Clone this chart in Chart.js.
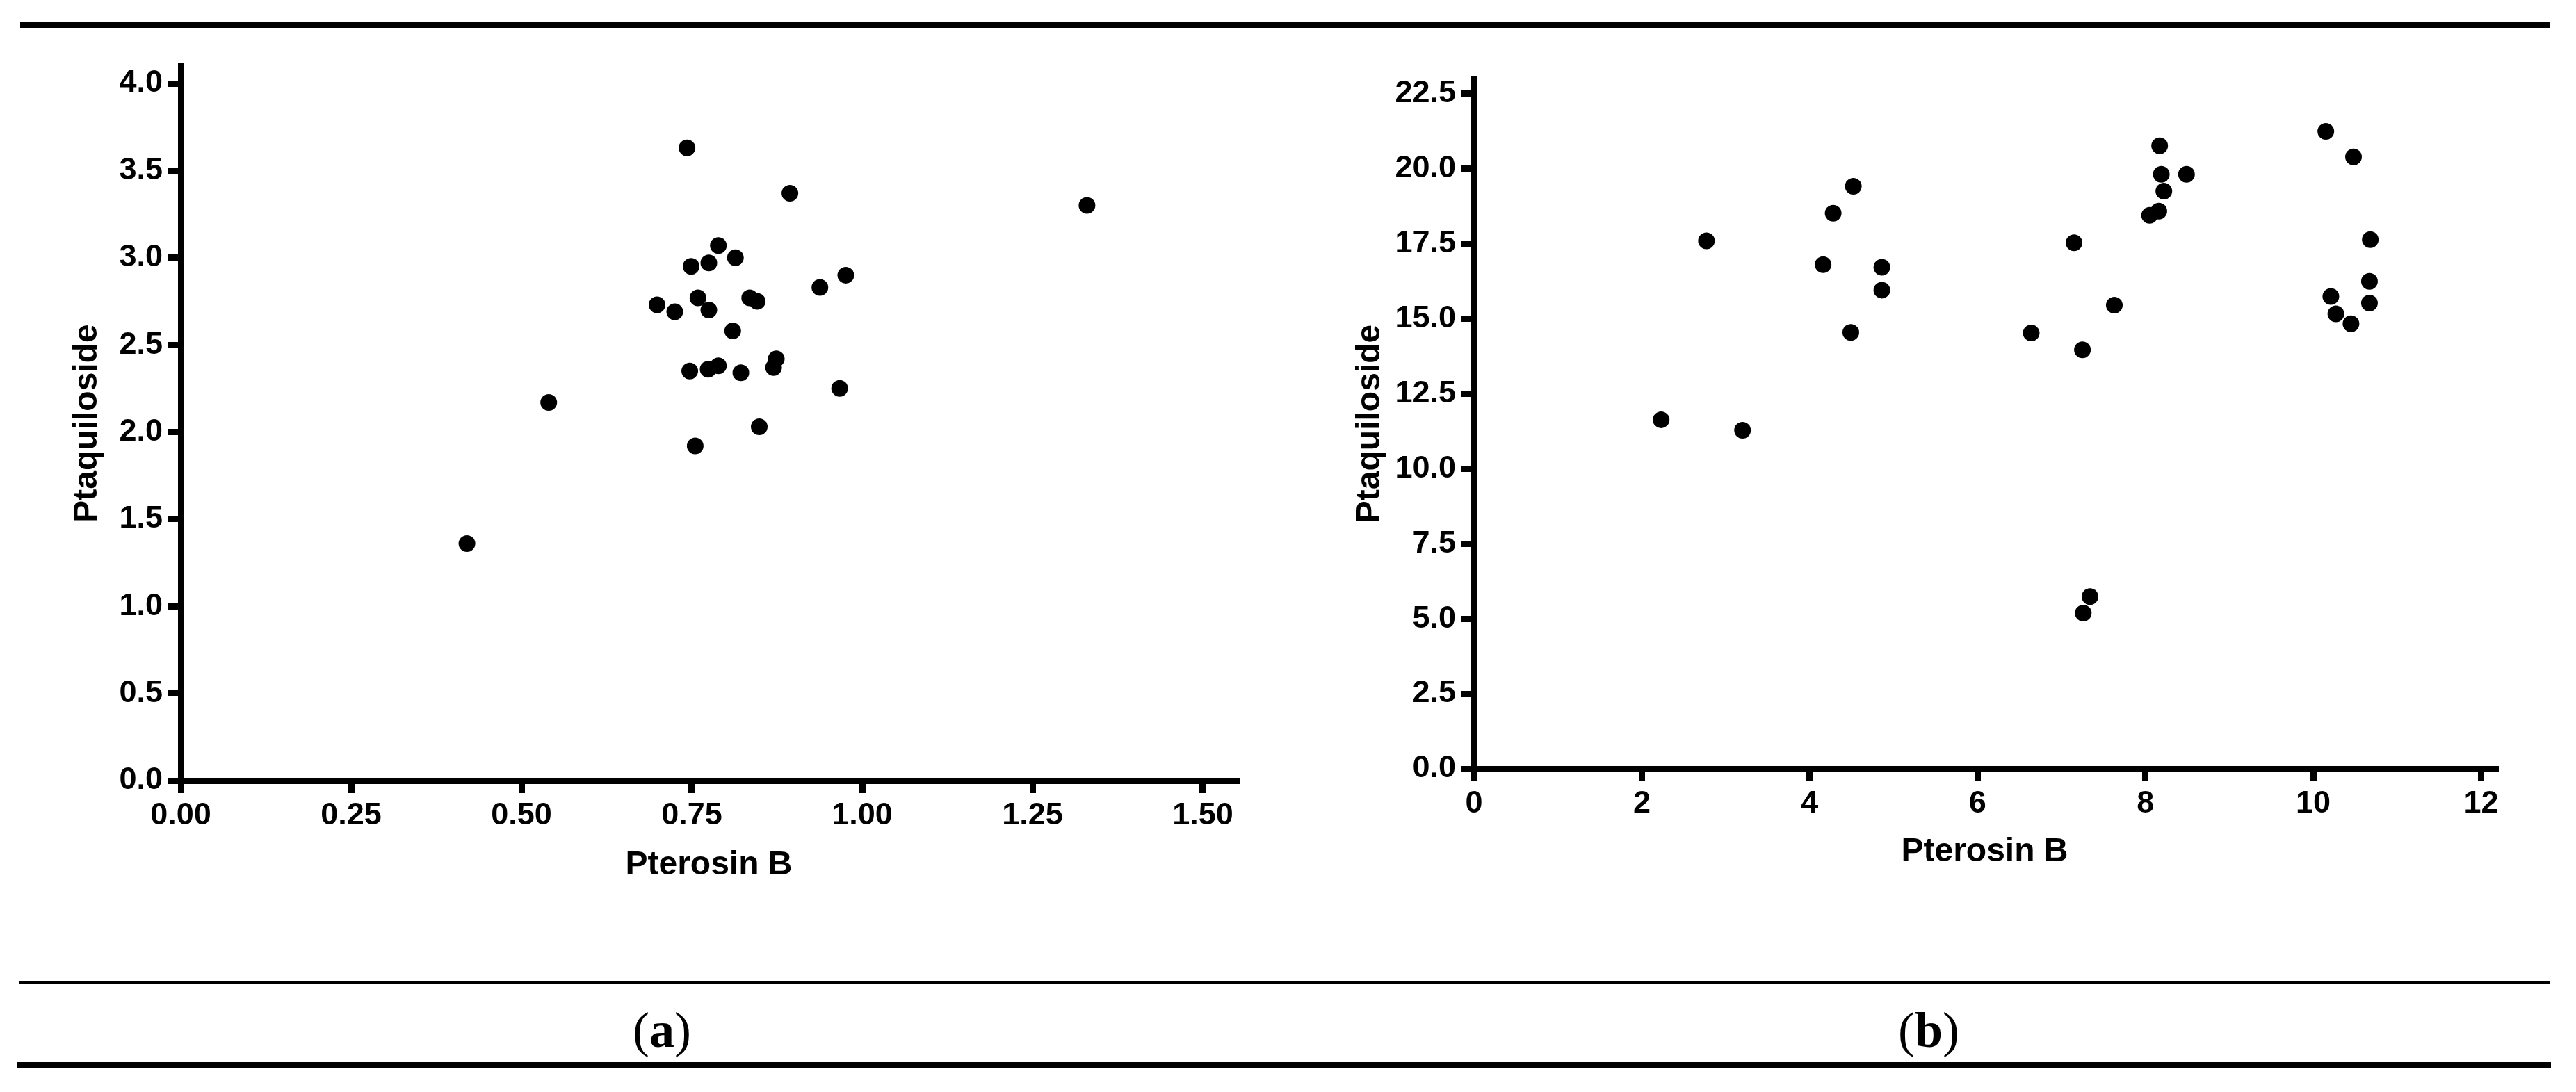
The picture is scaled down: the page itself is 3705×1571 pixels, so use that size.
<!DOCTYPE html>
<html>
<head>
<meta charset="utf-8">
<script src="https://cdn.jsdelivr.net/npm/chart.js@4/dist/chart.umd.min.js"></script>
<style>
  body { margin: 0; background: #fff; width: 3705px; height: 1571px; overflow: hidden; position: relative; }
  .linea { position: absolute; background: #000; }
  .lienzo { position: absolute; top: 0; }
  .rotulo { position: absolute; width: 400px; text-align: center; font-family: "Liberation Serif", "Times New Roman", serif; font-size: 72px; line-height: 72px; color: #000; }
</style>
</head>
<body>
<div class="linea" style="left:29px; top:32px; width:3638px; height:9px;"></div>
<canvas id="graficoA" class="lienzo" style="left:0px;" width="1850" height="1300"></canvas>
<canvas id="graficoB" class="lienzo" style="left:1850px;" width="1855" height="1300"></canvas>
<div class="linea" style="left:28px; top:1411px; width:3640px; height:5px;"></div>
<div class="rotulo" style="left:752px; top:1446px;">(<b>a</b>)</div>
<div class="rotulo" style="left:2574px; top:1446px;">(<b>b</b>)</div>
<div class="linea" style="left:24px; top:1528px; width:3645px; height:9px;"></div>

<script>
// panel (a)
const pterosinA = [0.42, 0.54, 0.743, 0.894, 0.789, 0.814, 0.775, 0.749, 0.976, 0.938, 0.699, 0.725, 0.759, 0.775,
  0.835, 0.846, 0.81, 0.874, 0.87, 0.747, 0.774, 0.789, 0.822, 0.967, 0.849, 0.755, 1.33];
const ptaquilosidoA = [1.36, 2.17, 3.63, 3.37, 3.07, 3.0, 2.97, 2.95, 2.9, 2.83, 2.73, 2.69, 2.77, 2.7,
  2.77, 2.75, 2.58, 2.42, 2.37, 2.35, 2.36, 2.38, 2.34, 2.25, 2.03, 1.92, 3.3];

// panel (b)
const pterosinB = [8.17, 8.19, 8.49, 8.22, 8.16, 8.05, 7.15, 7.63, 6.64, 7.25, 10.15, 10.48, 10.68, 10.67, 10.21,
  10.67, 10.27, 10.45, 4.52, 4.28, 2.77, 4.16, 4.86, 4.86, 4.49, 2.23, 3.2, 7.34, 7.26];
const ptaquilosidoB = [20.76, 19.81, 19.81, 19.25, 18.58, 18.44, 17.53, 15.45, 14.52, 13.96, 21.24, 20.39, 17.63, 16.24, 15.74,
  15.52, 15.16, 14.83, 19.41, 18.51, 17.59, 16.8, 16.71, 15.95, 14.54, 11.63, 11.28, 5.74, 5.19];

// ticks
const ticksXA = [0, 0.25, 0.5, 0.75, 1, 1.25, 1.5];
const etiquetasXA = ["0.00", "0.25", "0.50", "0.75", "1.00", "1.25", "1.50"];
const ticksYA = [0, 0.5, 1, 1.5, 2, 2.5, 3, 3.5, 4];
const etiquetasYA = ["0.0", "0.5", "1.0", "1.5", "2.0", "2.5", "3.0", "3.5", "4.0"];
const ticksXB = [0, 2, 4, 6, 8, 10, 12];
const etiquetasXB = ["0", "2", "4", "6", "8", "10", "12"];
const ticksYB = [0, 2.5, 5, 7.5, 10, 12.5, 15, 17.5, 20, 22.5];
const etiquetasYB = ["0.0", "2.5", "5.0", "7.5", "10.0", "12.5", "15.0", "17.5", "20.0", "22.5"];

const tituloX = "Pterosin B";
const tituloY = "Ptaquiloside";

Chart.defaults.font.family = "'Liberation Sans', Arial, sans-serif";
Chart.defaults.color = "#000";

function marcas() {
  return { drawOnChartArea: false, drawTicks: true, tickLength: 18, tickWidth: 9, lineWidth: 9, color: "#000" };
}

function ejeX(ticks, etiquetas, max, alto, padTitulo) {
  return {
    type: "linear",
    position: "bottom",
    min: 0,
    max: max,
    afterBuildTicks: (eje) => { eje.ticks = ticks.map((v) => ({ value: v })); },
    afterFit: (eje) => { eje.height = alto; },
    grid: marcas(),
    border: { display: true, width: 9, color: "#000" },
    ticks: {
      padding: 6, autoSkip: false, maxRotation: 0, color: "#000",
      font: { size: 45, weight: "bold" },
      callback: (v, i) => etiquetas[i],
    },
    title: { display: true, text: tituloX, color: "#000", font: { size: 48, weight: "bold" }, padding: { top: 0, bottom: padTitulo } },
  };
}

function ejeY(ticks, etiquetas, max, ancho, padTitulo) {
  return {
    type: "linear",
    position: "left",
    min: 0,
    max: max,
    afterBuildTicks: (eje) => { eje.ticks = ticks.map((v) => ({ value: v })); },
    afterFit: (eje) => { eje.width = ancho; },
    grid: marcas(),
    border: { display: true, width: 9, color: "#000" },
    ticks: {
      padding: 8, autoSkip: false, color: "#000",
      font: { size: 45, weight: "bold" },
      callback: (v, i) => etiquetas[i],
    },
    title: { display: true, text: tituloY, color: "#000", font: { size: 48, weight: "bold" }, padding: { top: padTitulo, bottom: 0 } },
  };
}

function armarGrafico(id, xs, ys, escalaX, escalaY, relleno) {
  const puntos = xs.map((x, i) => ({ x: x, y: ys[i] }));
  return new Chart(document.getElementById(id), {
    type: "scatter",
    data: {
      datasets: [{
        data: puntos,
        backgroundColor: "#000",
        borderWidth: 0,
        pointRadius: 12,
        pointHoverRadius: 12,
      }],
    },
    options: {
      responsive: false,
      animation: false,
      devicePixelRatio: 1,
      layout: { padding: relleno },
      plugins: { legend: { display: false }, tooltip: { enabled: false } },
      scales: { x: escalaX, y: escalaY },
    },
  });
}

armarGrafico("graficoA", pterosinA, ptaquilosidoA,
  ejeX(ticksXA, etiquetasXA, 1.55, 177, 26),
  ejeY(ticksYA, etiquetasYA, 4.1, 260, 97),
  { top: 95, right: 71, left: 0, bottom: 0 });

armarGrafico("graficoB", pterosinB, ptaquilosidoB,
  ejeX(ticksXB, etiquetasXB, 12.17, 194, 45),
  ejeY(ticksYB, etiquetasYB, 23.0, 270, 92),
  { top: 113, right: 116, left: 0, bottom: 0 });
</script>
</body>
</html>
